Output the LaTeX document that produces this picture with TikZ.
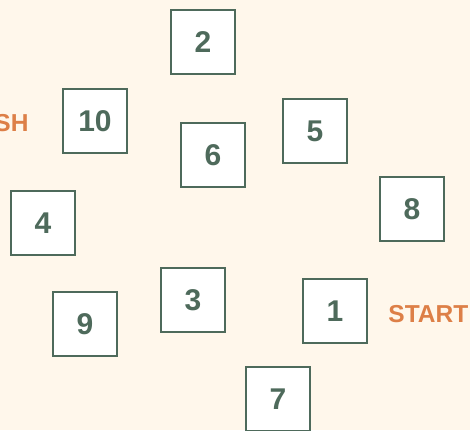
\documentclass[tikz,border=0pt]{standalone}
\usepackage{fontspec}
\setmainfont{Liberation Sans}
\usepackage{tikz}

\definecolor{cream}{HTML}{FFF7EB}
\definecolor{boxgreen}{HTML}{4E6A5B}
\definecolor{tagorange}{HTML}{DD7F47}

\tikzset{
    StepBox/.style = {draw = boxgreen, line width = 2.4pt, fill = white,
        minimum size = 63.5pt, inner sep = 0pt, text = boxgreen, text depth = 0pt,
        font = \fontsize{30}{30}\selectfont\bfseries},
    EndLabel/.style = {text = tagorange, text depth = 0pt,
        font = \fontsize{24.5}{24.5}\selectfont\bfseries}
}

\begin{document}
\begin{tikzpicture}[x=1pt, y=-1pt]
        \fill[cream] (0,0) rectangle (470,430);
        \useasboundingbox (0,0) rectangle (470,430);
        \node[StepBox] (b2) at (203, 42) {2};
        \node[StepBox] (b10) at (95, 121) {10};
        \node[StepBox] (b5) at (315, 131) {5};
        \node[StepBox] (b6) at (213, 155) {6};
        \node[StepBox] (b8) at (412, 209) {8};
        \node[StepBox] (b4) at (43, 223) {4};
        \node[StepBox] (b3) at (193, 300) {3};
        \node[StepBox] (b1) at (335, 311) {1};
        \node[StepBox] (b9) at (85, 324) {9};
        \node[StepBox] (b7) at (278, 399) {7};
        \node[EndLabel, anchor=west, xshift=17pt, yshift=-3pt] at (b1.east) {START};
        \node[EndLabel, anchor=east, xshift=-30pt, yshift=-2pt] at (b10.west) {FINISH};
    \end{tikzpicture}
\end{document}
